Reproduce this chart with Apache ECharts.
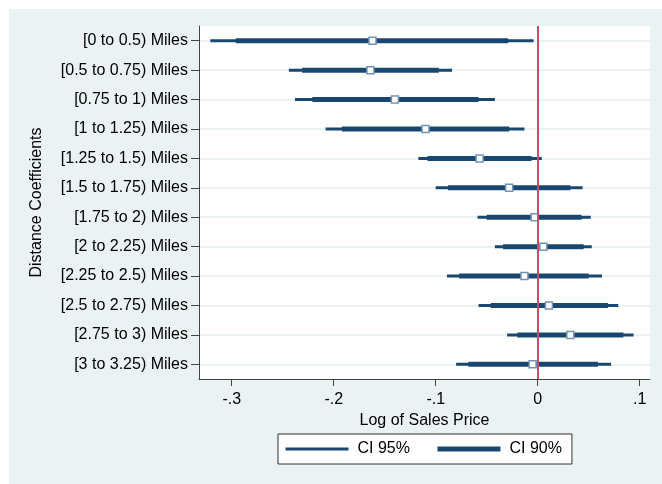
<!DOCTYPE html>
<html>
<head>
<meta charset="utf-8">
<script src="https://cdn.jsdelivr.net/npm/echarts@6/dist/echarts.min.js"></script>
<style>
  body { margin: 0; background: #fff; }
  #chart {
    width: 662px;
    height: 484px;
    background: linear-gradient(#eaf2f3, #eaf2f3) no-repeat 9px 9px / 653px 475px, #fff;
  }
</style>
</head>
<body>
<div id="chart"></div>
<script>
// distance bands, top to bottom
const categories = [
  '[0 to 0.5) Miles', '[0.5 to 0.75) Miles', '[0.75 to 1) Miles', '[1 to 1.25) Miles',
  '[1.25 to 1.5) Miles', '[1.5 to 1.75) Miles', '[1.75 to 2) Miles', '[2 to 2.25) Miles',
  '[2.25 to 2.5) Miles', '[2.5 to 2.75) Miles', '[2.75 to 3) Miles', '[3 to 3.25) Miles'
];
const estimates = [-0.162, -0.164, -0.140, -0.110, -0.057, -0.028, -0.003, 0.0055, -0.013, 0.011, 0.032, -0.005];
const ci95Low  = [-0.321, -0.244, -0.238, -0.208, -0.117, -0.100, -0.059, -0.042, -0.089, -0.058, -0.030, -0.080];
const ci95High = [-0.004, -0.084, -0.042, -0.013, 0.004, 0.044, 0.052, 0.053, 0.063, 0.079, 0.094, 0.072];
const ci90Low  = [-0.296, -0.231, -0.221, -0.192, -0.108, -0.088, -0.050, -0.034, -0.077, -0.046, -0.020, -0.068];
const ci90High = [-0.029, -0.097, -0.058, -0.028, -0.006, 0.032, 0.043, 0.045, 0.050, 0.069, 0.084, 0.059];
const xTicks = [-0.3, -0.2, -0.1, 0, 0.1];
const xTickLabels = ['-.3', '-.2', '-.1', '0', '.1'];

const navy = '#1a476f';
const font = 'Liberation Sans, Arial, sans-serif';

function ciSeries(name, lo, hi, width) {
  return categories.map((c, i) => ({
    name: name,
    type: 'line',
    symbol: 'none',
    z: 2,
    silent: true,
    lineStyle: { color: navy, width: width, cap: 'butt' },
    itemStyle: { color: navy },
    data: [[lo[i], i], [hi[i], i]]
  }));
}

const series = [].concat(
  ciSeries('CI 95%', ci95Low, ci95High, 3),
  ciSeries('CI 90%', ci90Low, ci90High, 5),
  [{
    name: 'zero',
    type: 'line',
    data: [],
    z: 3,
    markLine: {
      silent: true,
      symbol: 'none',
      label: { show: false },
      lineStyle: { color: '#d1486b', width: 2, type: 'solid' },
      data: [{ xAxis: 0 }]
    }
  }, {
    name: 'Estimate',
    type: 'scatter',
    z: 4,
    symbol: 'rect',
    symbolSize: 7,
    itemStyle: { color: '#fff', borderColor: '#7393b3', borderWidth: 1.5, opacity: 1 },
    data: estimates.map((v, i) => [v, i])
  }]
);

const chart = echarts.init(document.getElementById('chart'));
chart.setOption({
  animation: false,
  textStyle: { fontFamily: font },
  grid: {
    left: 199, right: 12, top: 26, bottom: 105,
    show: true, backgroundColor: '#fff', borderWidth: 0,
    outerBoundsMode: 'none'
  },
  xAxis: {
    type: 'value',
    min: -0.3321,
    max: 0.1101,
    name: 'Log of Sales Price',
    nameLocation: 'middle',
    nameGap: 28,
    nameTextStyle: { fontSize: 16, color: '#000', fontFamily: font },
    axisLine: { show: true, onZero: false, lineStyle: { color: '#444', width: 1 } },
    axisTick: { show: true, length: 7, customValues: xTicks, lineStyle: { color: '#444' } },
    axisLabel: {
      fontSize: 16, color: '#000', margin: 13, fontFamily: font,
      customValues: xTicks,
      formatter: v => xTickLabels[xTicks.findIndex(t => Math.abs(t - v) < 1e-9)]
    },
    splitLine: { show: false }
  },
  yAxis: {
    type: 'category',
    inverse: true,
    data: categories,
    name: 'Distance Coefficients',
    nameLocation: 'middle',
    nameGap: 154,
    nameTextStyle: { fontSize: 16, color: '#000', fontFamily: font },
    axisLine: { show: true, onZero: false, lineStyle: { color: '#444', width: 1 } },
    axisTick: { show: true, alignWithLabel: true, interval: 0, length: 8, lineStyle: { color: '#444' } },
    axisLabel: { fontSize: 16, color: '#000', margin: 11, interval: 0, fontFamily: font },
    splitLine: {
      show: true, interval: 0, alignWithLabel: true,
      lineStyle: { color: '#e6eef0', width: 1.5 }
    }
  },
  legend: {
    left: 278,
    top: 434,
    orient: 'horizontal',
    backgroundColor: '#fff',
    borderColor: '#333',
    borderWidth: 1,
    borderRadius: 0,
    padding: [7, 10, 7, 6],
    itemWidth: 63,
    itemHeight: 14,
    itemGap: 25,
    selectedMode: false,
    textStyle: { fontSize: 16, color: '#000', fontFamily: font, padding: [0, 0, 0, 4] },
    data: [
      { name: 'CI 95%', lineStyle: { width: 3, color: navy }, itemStyle: { opacity: 0 } },
      { name: 'CI 90%', lineStyle: { width: 5, color: navy }, itemStyle: { opacity: 0 } }
    ]
  },
  series: series
});
</script>
</body>
</html>
